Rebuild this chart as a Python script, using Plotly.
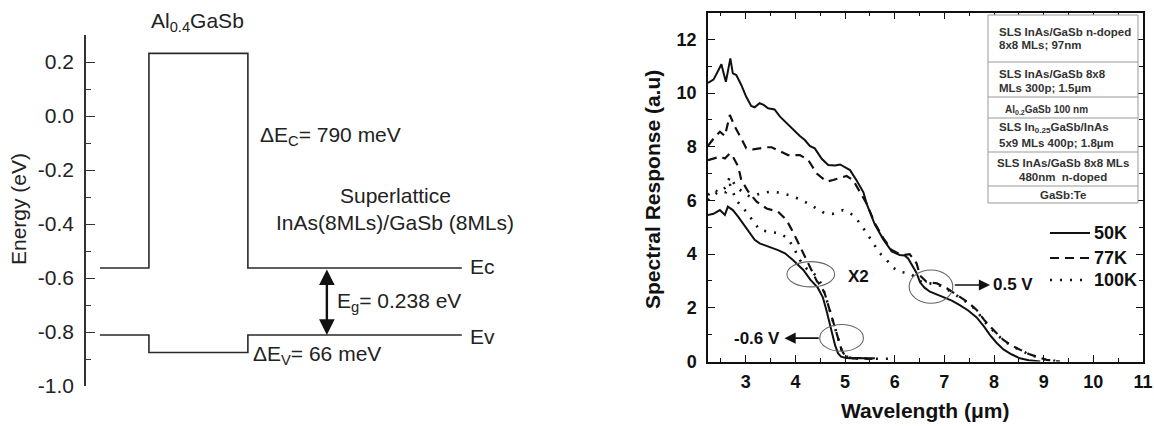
import plotly.graph_objects as go

W, H = 1154, 426
FONT = "Liberation Sans, Arial, sans-serif"

# ---------------- Left panel data (band diagram) ----------------
layer_edges = [0.32, 1.45, 3.73, 8.66]          # SL | Al0.4GaSb | SL (arbitrary position units)
ec_levels = [-0.563, 0.232, -0.563]             # conduction band edge (eV)
ev_levels = [-0.811, -0.876, -0.811]            # valence band edge (eV)
energy_ticks = [-1.0, -0.8, -0.6, -0.4, -0.2, 0.0, 0.2]
energy_ticktext = ["-1.0", "-0.8", "-0.6", "-0.4", "-0.2", "0.0", "0.2"]
eg_arrow_x = 5.55

# ---------------- Right panel data (spectral response) ----------------
wl_50K_p = [2.24, 2.35, 2.45, 2.51, 2.56, 2.60, 2.65, 2.69, 2.74, 2.81, 2.91, 3.01, 3.11, 3.18, 3.28, 3.36,
            3.45, 3.58, 3.69, 3.89, 4.09, 4.19, 4.29, 4.39, 4.53, 4.66, 4.80, 4.90, 5.00, 5.10, 5.23, 5.37,
            5.44, 5.60, 5.77, 5.94, 6.10, 6.20, 6.27, 6.37, 6.44, 6.51, 6.60, 6.71, 6.85, 6.98, 7.15, 7.31,
            7.48, 7.65, 7.80, 7.92, 8.05, 8.19, 8.35, 8.52, 8.70, 8.93]
sr_50K_p = [10.38, 10.5, 10.85, 11.07, 10.7, 10.42, 10.9, 11.29, 10.73, 10.67, 10.3, 9.86, 9.52, 9.47, 9.62, 9.56,
            9.43, 9.39, 9.12, 8.75, 8.40, 8.25, 8.03, 7.94, 7.55, 7.32, 7.30, 7.34, 7.25, 7.13, 6.75, 6.30,
            5.85, 5.10, 4.55, 4.10, 3.97, 3.95, 3.84, 3.55, 3.30, 2.95, 2.75, 2.60, 2.50, 2.41, 2.27, 2.10,
            1.90, 1.64, 1.30, 0.98, 0.70, 0.45, 0.27, 0.12, 0.05, 0.0]

wl_77K_p = [2.24, 2.35, 2.48, 2.58, 2.68, 2.78, 2.91, 3.01, 3.15, 3.28, 3.42, 3.52, 3.72, 3.85, 4.09, 4.26,
            4.43, 4.63, 4.76, 4.90, 5.03, 5.16, 5.30, 5.43, 5.60, 5.77, 5.94, 6.10, 6.21, 6.30, 6.44, 6.51,
            6.64, 6.85, 7.05, 7.31, 7.48, 7.65, 7.80, 7.99, 8.19, 8.35, 8.52, 8.70, 8.86, 9.06, 9.33]
sr_77K_p = [8.03, 8.30, 8.56, 8.40, 9.18, 8.75, 8.31, 7.94, 7.90, 7.95, 7.98, 7.98, 7.81, 7.69, 7.69, 7.50,
            7.00, 6.70, 6.76, 6.85, 6.91, 6.76, 6.30, 5.90, 5.15, 4.60, 4.15, 4.00, 3.97, 4.00, 3.66, 3.20,
            2.97, 2.91, 2.73, 2.41, 2.20, 1.92, 1.55, 1.17, 0.80, 0.60, 0.43, 0.28, 0.18, 0.06, 0.0]

wl_100K_p = [2.24, 2.35, 2.48, 2.60, 2.68, 2.81, 2.95, 3.08, 3.20, 3.35, 3.50, 3.69, 3.90, 4.09, 4.26, 4.43,
             4.59, 4.75, 4.96, 5.16, 5.30, 5.44, 5.57, 5.70, 5.84, 5.94, 6.10, 6.31, 6.44, 6.55, 6.64, 6.85,
             7.05, 7.31, 7.48, 7.65, 7.80, 7.99, 8.19, 8.35, 8.52, 8.70, 8.86, 9.06, 9.33]
sr_100K_p = [6.20, 6.40, 6.30, 6.50, 6.88, 6.50, 6.30, 6.14, 6.20, 6.29, 6.32, 6.29, 6.18, 6.04, 5.88, 5.70,
             5.52, 5.50, 5.64, 5.46, 5.15, 4.77, 4.40, 4.03, 3.78, 3.53, 3.34, 3.28, 3.10, 2.95, 2.92, 2.88,
             2.70, 2.38, 2.17, 1.90, 1.50, 1.13, 0.78, 0.58, 0.42, 0.27, 0.17, 0.06, 0.0]

wl_50K_n = [2.24, 2.35, 2.48, 2.58, 2.64, 2.74, 2.85, 3.01, 3.18, 3.28, 3.48, 3.65, 3.79, 3.95, 4.16, 4.30,
            4.45, 4.55, 4.62, 4.68, 4.74, 4.80, 4.86, 4.92, 5.00, 5.10, 5.30, 5.45, 5.60]
sr_50K_n = [5.46, 5.50, 5.64, 5.46, 5.77, 5.64, 5.39, 4.96, 4.53, 4.40, 4.28, 4.15, 4.03, 3.78, 3.41, 3.05,
            2.75, 2.40, 1.95, 1.50, 1.05, 0.60, 0.30, 0.18, 0.14, 0.12, 0.13, 0.11, 0.12]

wl_77K_n = [2.24, 2.35, 2.48, 2.58, 2.68, 2.74, 2.85, 2.91, 3.05, 3.22, 3.42, 3.65, 3.82, 3.95, 4.09, 4.22,
            4.36, 4.43, 4.52, 4.59, 4.69, 4.79, 4.86, 4.93, 5.00, 5.16, 5.35, 5.55]
sr_77K_n = [7.50, 7.55, 7.63, 7.56, 7.75, 7.63, 7.26, 6.76, 6.33, 5.95, 5.70, 5.58, 5.27, 4.83, 4.28, 3.78,
            3.28, 3.00, 2.80, 2.54, 1.92, 1.30, 0.80, 0.43, 0.20, 0.12, 0.12, 0.10]

wl_100K_n = [2.24, 2.35, 2.48, 2.60, 2.68, 2.81, 3.01, 3.15, 3.28, 3.48, 3.69, 3.85, 3.99, 4.09, 4.22, 4.36,
             4.43, 4.52, 4.59, 4.69, 4.79, 4.86, 4.93, 5.00, 5.16, 5.40, 5.60, 5.90]
sr_100K_n = [6.00, 6.20, 6.35, 6.30, 6.60, 6.00, 5.58, 5.21, 4.90, 4.83, 4.77, 4.59, 4.15, 3.78, 3.47, 3.30,
             3.15, 2.90, 2.54, 1.92, 1.30, 0.80, 0.43, 0.20, 0.12, 0.10, 0.10, 0.10]

wl_ticks = [3, 4, 5, 6, 7, 8, 9, 10, 11]
sr_ticks = [0, 2, 4, 6, 8, 10, 12]

temps = ["50K", "77K", "100K"]
table_lines = [
    ("SLS InAs/GaSb n-doped", 32, "left", 11.5),
    ("8x8 MLs; 97nm", 45, "left", 11.5),
    ("SLS InAs/GaSb 8x8", 74, "left", 11.5),
    ("MLs 300p; 1.5µm", 88, "left", 11.5),
    ("Al<sub>0.2</sub>GaSb 100 nm", 110, "small", 10),
    ("SLS In<sub>0.25</sub>GaSb/InAs", 128, "left", 11.5),
    ("5x9 MLs 400p; 1.8µm", 143, "left", 11.5),
    ("SLS InAs/GaSb 8x8 MLs", 163, "center", 11.5),
    ("480nm  n-doped", 177, "center", 11.5),
    ("GaSb:Te", 195, "center", 11.5),
]
table_rows = [15, 62, 97, 118, 152, 186, 203]
legend_rows = [233, 258, 280]


def fx(p):
    return p / W


def fy(p):
    return 1 - p / H


fig = go.Figure()

band_col = "#2a2a2a"
fig.add_trace(go.Scatter(x=layer_edges, y=ec_levels + [ec_levels[-1]], mode="lines", line_shape="hv",
                         line=dict(color=band_col, width=1.6), showlegend=False, xaxis="x", yaxis="y"))
fig.add_trace(go.Scatter(x=layer_edges, y=ev_levels + [ev_levels[-1]], mode="lines", line_shape="hv",
                         line=dict(color=band_col, width=1.6), showlegend=False, xaxis="x", yaxis="y"))

curve_col = "#111111"
dashes = {"50K": "solid", "77K": "9px,6px", "100K": "2px,8px"}
widths = {"50K": 2.0, "77K": 2.2, "100K": 2.6}
pos = {"50K": (wl_50K_p, sr_50K_p), "77K": (wl_77K_p, sr_77K_p), "100K": (wl_100K_p, sr_100K_p)}
neg = {"50K": (wl_50K_n, sr_50K_n), "77K": (wl_77K_n, sr_77K_n), "100K": (wl_100K_n, sr_100K_n)}
for t in temps:
    fig.add_trace(go.Scatter(x=pos[t][0], y=pos[t][1], mode="lines", name=t + " (0.5 V)",
                             line=dict(color=curve_col, width=widths[t], dash=dashes[t]),
                             xaxis="x2", yaxis="y2", showlegend=False))
for t in temps:
    fig.add_trace(go.Scatter(x=neg[t][0], y=neg[t][1], mode="lines", name=t + " (-0.6 V)",
                             line=dict(color=curve_col, width=widths[t], dash=dashes[t]),
                             xaxis="x2", yaxis="y2", showlegend=False))

ann = []
lf = dict(family=FONT, size=21, color="#222")


def pann(xp, yp, text, font, xanchor="center", yanchor="middle", **kw):
    d = dict(x=fx(xp), y=fy(yp), xref="paper", yref="paper", text=text, showarrow=False, font=font,
             xanchor=xanchor, yanchor=yanchor)
    d.update(kw)
    return d


ann.append(pann(197, 22, "Al<sub>0.4</sub>GaSb", lf))
ann.append(dict(x=3.96, y=-0.074, xref="x", yref="y", xanchor="left", yanchor="middle",
                text="ΔE<sub>C</sub>= 790 meV", showarrow=False, font=lf))
ann.append(dict(x=7.12, y=-0.293, xref="x", yref="y", xanchor="center", yanchor="middle",
                text="Superlattice", showarrow=False, font=lf))
ann.append(dict(x=7.12, y=-0.393, xref="x", yref="y", xanchor="center", yanchor="middle",
                text="InAs(8MLs)/GaSb (8MLs)", showarrow=False, font=lf))
ann.append(dict(x=5.74, y=-0.689, xref="x", yref="y", xanchor="left", yanchor="middle",
                text="E<sub>g</sub>= 0.238 eV", showarrow=False, font=lf))
ann.append(dict(x=3.80, y=-0.885, xref="x", yref="y", xanchor="left", yanchor="middle",
                text="ΔE<sub>V</sub>= 66 meV", showarrow=False, font=lf))
ann.append(dict(x=8.80, y=-0.559, xref="x", yref="y", xanchor="left", yanchor="middle", text="Ec",
                showarrow=False, font=lf))
ann.append(dict(x=8.80, y=-0.815, xref="x", yref="y", xanchor="left", yanchor="middle", text="Ev",
                showarrow=False, font=lf))
ann.append(dict(x=eg_arrow_x, y=ev_levels[-1], ax=eg_arrow_x, ay=ec_levels[-1], xref="x", yref="y",
                axref="x", ayref="y", text="", showarrow=True, arrowhead=2, startarrowhead=2,
                arrowside="end+start", arrowsize=1.3, startarrowsize=1.3, arrowwidth=2.4, arrowcolor="#111"))
ann.append(pann(18, 209, "Energy (eV)", lf, textangle=-90))

# right panel annotations
rb = dict(family=FONT, size=17, color="#111", weight="bold")
ann.append(dict(x=5.02, y=3.18, xref="x2", yref="y2", xanchor="left", yanchor="middle", text="X2",
                showarrow=False, font=rb))
ann.append(dict(x=7.92, y=2.85, ax=7.18, ay=2.85, xref="x2", yref="y2", axref="x2", ayref="y2", text="",
                showarrow=True, arrowhead=2, arrowsize=1.4, arrowwidth=1.6, arrowcolor="#111"))
ann.append(dict(x=7.94, y=2.85, xref="x2", yref="y2", xanchor="left", yanchor="middle", text="0.5 V",
                showarrow=False, font=rb))
ann.append(dict(x=3.78, y=0.87, ax=4.50, ay=0.87, xref="x2", yref="y2", axref="x2", ayref="y2", text="",
                showarrow=True, arrowhead=2, arrowsize=1.4, arrowwidth=1.6, arrowcolor="#111"))
ann.append(dict(x=3.74, y=0.87, xref="x2", yref="y2", xanchor="right", yanchor="middle", text="-0.6 V",
                showarrow=False, font=rb))
tb = dict(family=FONT, size=21, color="#111", weight="bold")
ann.append(pann(925, 410, "Wavelength (μm)", tb))
ann.append(pann(652, 190, "Spectral Response (a.u)", tb, textangle=-90))

for text, ypx, kind, size in table_lines:
    f = dict(family=FONT, size=size, color="#333", weight="bold")
    if kind == "center":
        ann.append(pann(1063, ypx, text, f))
    elif kind == "small":
        ann.append(pann(1003, ypx, text, f, xanchor="left"))
    else:
        ann.append(pann(997, ypx, text, f, xanchor="left"))

shapes = []
ell = dict(color="#666", width=1.1)
for cx, cy, rx, ry in [(4.31, 3.25, 0.48, 0.47), (4.93, 0.88, 0.44, 0.50), (6.73, 2.79, 0.44, 0.62)]:
    shapes.append(dict(type="circle", xref="x2", yref="y2", x0=cx - rx, x1=cx + rx, y0=cy - ry, y1=cy + ry,
                       line=ell))
shapes.append(dict(type="rect", xref="paper", yref="paper", x0=fx(988), x1=fx(1138), y0=fy(table_rows[-1]),
                   y1=fy(table_rows[0]), line=dict(color="#999", width=1), fillcolor="white"))
for r in table_rows[1:-1]:
    shapes.append(dict(type="line", xref="paper", yref="paper", x0=fx(988), x1=fx(1138), y0=fy(r), y1=fy(r),
                       line=dict(color="#999", width=1)))

# manual legend (line samples + labels)
lg_font = dict(family=FONT, size=18, color="#111", weight="bold")
for t, ly in zip(temps, legend_rows):
    shapes.append(dict(type="line", xref="paper", yref="paper", x0=fx(1050), x1=fx(1090), y0=fy(ly), y1=fy(ly),
                       line=dict(color=curve_col, width=widths[t], dash=dashes[t])))
    ann.append(pann(1092, ly, t, lg_font, xanchor="left"))

fig.update_layout(
    width=W, height=H, margin=dict(l=0, r=0, t=0, b=0), template="none",
    paper_bgcolor="white", plot_bgcolor="white", showlegend=False,
    font=dict(family=FONT, color="#222"),
    annotations=ann, shapes=shapes,
    xaxis=dict(domain=[fx(86), fx(520)], range=[0, 10], visible=False),
    yaxis=dict(domain=[fy(386), fy(35)], range=[-1.0, 0.3], showline=True, linecolor="#333", linewidth=1.5,
               tickvals=energy_ticks, ticktext=energy_ticktext, ticks="inside", ticklen=9, tickwidth=1.3,
               tickcolor="#333", showgrid=False, zeroline=False, ticklabelstandoff=6,
               tickfont=dict(family=FONT, size=21, color="#222"),
               minor=dict(dtick=0.1, tick0=0, ticks="inside", ticklen=5, tickcolor="#333", showgrid=False)),
    xaxis2=dict(domain=[fx(708), fx(1143)], range=[2.24, 11], anchor="y2", showline=True, mirror="allticks",
                linecolor="#111", linewidth=1.5, tickvals=wl_ticks, ticktext=[str(v) for v in wl_ticks],
                ticks="inside", ticklen=7, tickwidth=1.3, tickcolor="#111", showgrid=False, zeroline=False,
                ticklabelstandoff=3, tickfont=dict(family=FONT, size=18, color="#111", weight="bold"),
                minor=dict(dtick=0.5, tick0=0, ticks="inside", ticklen=4, tickcolor="#111", showgrid=False)),
    yaxis2=dict(domain=[fy(361.5), fy(12.5)], range=[0, 13], anchor="x2", showline=True, mirror="allticks",
                linecolor="#111", linewidth=1.5, tickvals=sr_ticks, ticktext=[str(v) for v in sr_ticks],
                ticks="inside", ticklen=7, tickwidth=1.3, tickcolor="#111", showgrid=False, zeroline=False,
                ticklabelstandoff=6, tickfont=dict(family=FONT, size=18, color="#111", weight="bold"),
                minor=dict(dtick=1, tick0=0, ticks="inside", ticklen=4, tickcolor="#111", showgrid=False)),
)

fig.write_html("out.html", config={"displayModeBar": False},
               post_script="document.body.style.margin='0';")
